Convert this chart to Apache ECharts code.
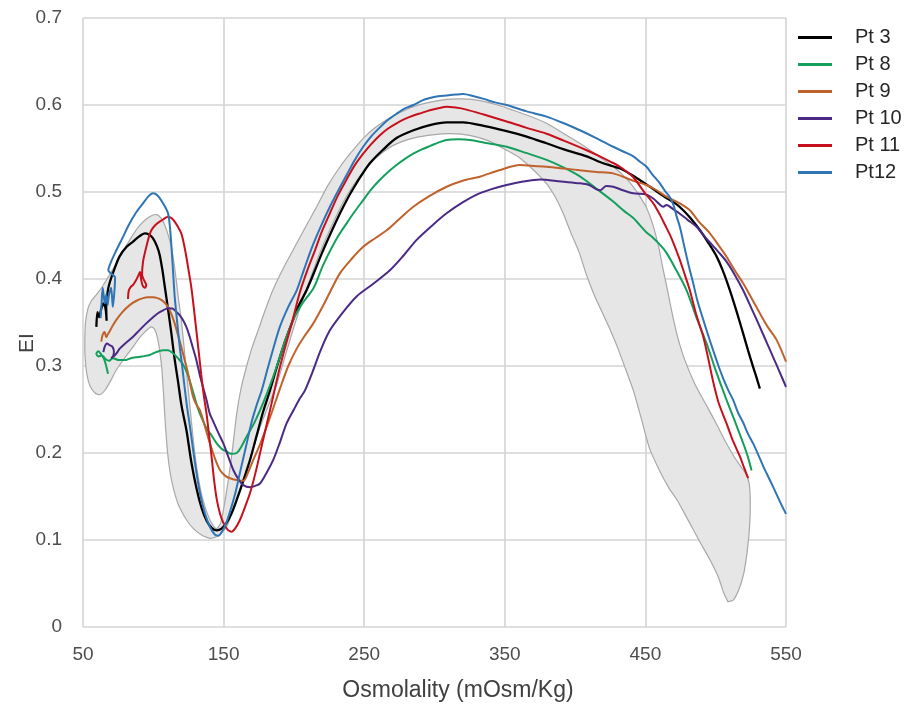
<!DOCTYPE html>
<html>
<head>
<meta charset="utf-8">
<script src="https://cdn.jsdelivr.net/npm/echarts@6/dist/echarts.min.js"></script>
<style>html,body{margin:0;padding:0;background:#fff;}#c{width:904px;height:712px;}</style>
</head>
<body>
<div id="c"></div>
<script>
const seriesNames = ['Pt 3', 'Pt 8', 'Pt 9', 'Pt 10', 'Pt 11', 'Pt12'];
const seriesColors = ['#000000', '#14a05c', '#c0622c', '#4a2a85', '#c8101c', '#2f75b5'];

const pt3 = [[59.5,0.345],[60.3,0.362],[61.5,0.356],[63,0.366],[64.5,0.372],[66,0.366],[66.8,0.352],[66.5,0.368],[67.5,0.385],[69,0.396],[72,0.41],[76,0.426],[81,0.437],[85.6,0.443],[90,0.449],[93.9,0.4525],[97,0.451],[99.8,0.4467],[102.5,0.438],[104.5,0.428],[106.5,0.41],[108.1,0.392],[110.5,0.365],[112.8,0.338],[115,0.31],[117.6,0.282],[120,0.255],[123.7,0.225],[127,0.19],[130.9,0.158],[134.5,0.136],[138,0.122],[141.5,0.114],[145.1,0.111],[148.5,0.113],[152.2,0.12],[155.5,0.13],[159.3,0.146],[164,0.168],[168.8,0.192],[173.5,0.22],[178.2,0.248],[183,0.272],[187.7,0.298],[193,0.325],[198,0.347],[203,0.368],[209,0.387],[215,0.41],[220,0.43],[226,0.452],[232.8,0.4755],[238,0.492],[243,0.506],[248,0.519],[254,0.533],[263,0.548],[273,0.562],[285,0.571],[296.7,0.577],[308.6,0.58],[320.4,0.58],[335,0.576],[351.3,0.57],[365,0.564],[379.7,0.556],[392,0.549],[408.2,0.541],[420,0.533],[431.9,0.527],[441,0.519],[453.2,0.506],[465,0.493],[472,0.486],[476.9,0.479],[482,0.47],[488.8,0.456],[495,0.441],[500.6,0.426],[505,0.41],[510.1,0.387],[515,0.362],[519.5,0.3375],[523,0.318],[526.6,0.299],[529,0.287],[531.4,0.274]];

const pt8 = [[67.8,0.291],[66.5,0.3],[65,0.308],[63,0.313],[61,0.317],[59.5,0.314],[61,0.311],[63.5,0.312],[66,0.308],[68.5,0.306],[71.3,0.309],[75,0.307],[80.8,0.307],[84,0.309],[87.9,0.31],[92,0.311],[97.4,0.3126],[102,0.316],[106.9,0.318],[110.5,0.318],[114,0.3146],[117.5,0.309],[121.1,0.302],[124.5,0.29],[128.3,0.27],[132,0.25],[135,0.238],[138,0.228],[141.5,0.22],[145.1,0.211],[148.5,0.205],[152.2,0.2015],[155.5,0.199],[159.3,0.2],[162.5,0.207],[166.4,0.219],[171,0.232],[175.9,0.249],[180.5,0.267],[185.3,0.2877],[188.9,0.305],[194,0.33],[200,0.355],[206,0.372],[213.8,0.389],[220,0.413],[225,0.43],[231,0.448],[237.5,0.464],[243,0.477],[249,0.49],[255,0.503],[261.2,0.514],[267,0.523],[273,0.531],[279,0.538],[284.9,0.544],[291,0.549],[297,0.553],[303,0.557],[308.6,0.5598],[317,0.5605],[325.2,0.5598],[338,0.556],[351.3,0.552],[365,0.545],[379.7,0.537],[392,0.528],[403.4,0.518],[415,0.504],[427.1,0.489],[435,0.478],[441.4,0.47],[446,0.462],[450.8,0.4535],[455,0.448],[460,0.44],[465,0.43],[472,0.41],[479.3,0.387],[486,0.357],[493.5,0.326],[500,0.295],[507.7,0.261],[514,0.235],[519.6,0.211],[523,0.195],[525.5,0.18]];

const pt9 = [[63,0.328],[64,0.336],[65.4,0.339],[66.5,0.333],[67.5,0.336],[69,0.34],[71,0.346],[73.7,0.353],[78,0.362],[83.2,0.37],[88,0.375],[92.7,0.378],[96,0.379],[99.8,0.379],[103,0.378],[105.7,0.376],[108,0.373],[110.4,0.368],[112.8,0.36],[115.2,0.349],[117.5,0.336],[119.9,0.322],[122.3,0.307],[124.7,0.2916],[128.2,0.265],[130.8,0.255],[133.2,0.249],[136.8,0.23],[140.3,0.211],[144,0.193],[147.4,0.1805],[151,0.174],[154.5,0.171],[159,0.169],[164,0.168],[167.5,0.178],[171.1,0.192],[175.9,0.21],[180.6,0.23],[185,0.25],[190.1,0.274],[196,0.3],[202,0.32],[207,0.333],[213.8,0.349],[220,0.367],[226,0.386],[232.7,0.4065],[241,0.423],[249.3,0.437],[257,0.446],[266,0.456],[275,0.469],[284.9,0.483],[296,0.495],[308.6,0.506],[320,0.513],[332.3,0.5176],[346,0.525],[360.8,0.531],[370,0.53],[379.7,0.529],[392,0.527],[403.4,0.525],[415,0.523],[427.1,0.5214],[441.4,0.513],[450.8,0.508],[458,0.502],[465,0.4946],[474.5,0.487],[481.6,0.479],[488,0.466],[495.9,0.4525],[501.5,0.44],[507.7,0.4256],[513.5,0.41],[519.5,0.395],[525.5,0.378],[531.4,0.3606],[537,0.345],[543.3,0.33],[550,0.305]];

const pt10 = [[64.5,0.316],[65.4,0.322],[67,0.326],[69,0.324],[71,0.322],[72,0.316],[71.3,0.311],[70,0.309],[72.5,0.312],[74.5,0.316],[76.1,0.32],[80,0.326],[85.6,0.3337],[90,0.341],[95,0.349],[99,0.355],[103.3,0.3606],[107,0.364],[110.4,0.3663],[113.5,0.366],[116.3,0.3624],[119,0.358],[121.1,0.353],[123.5,0.345],[125.9,0.3337],[128.3,0.32],[130.6,0.307],[133,0.29],[135.3,0.276],[138,0.26],[140.1,0.2456],[142.7,0.236],[146,0.224],[149.8,0.211],[153.5,0.195],[156.9,0.1805],[160.5,0.17],[164,0.163],[168.8,0.1606],[172,0.162],[175.9,0.165],[180.5,0.177],[185.3,0.192],[190,0.212],[194.8,0.234],[200,0.25],[204,0.262],[207.9,0.272],[213,0.292],[219,0.318],[225.6,0.341],[235,0.362],[244.6,0.38],[256,0.394],[268.3,0.41],[278,0.427],[287.3,0.445],[298,0.461],[308.6,0.4755],[320,0.488],[330,0.497],[340,0.503],[351.3,0.508],[363,0.512],[375,0.5145],[390,0.512],[403.4,0.51],[410,0.508],[415.3,0.503],[418,0.502],[422,0.507],[427.1,0.506],[434,0.502],[441.4,0.4985],[450.8,0.497],[456,0.492],[460,0.486],[462.6,0.483],[465,0.485],[470,0.48],[474.5,0.475],[480,0.468],[486.4,0.46],[492,0.449],[497,0.44],[502,0.431],[507.7,0.42],[513.5,0.405],[519.5,0.387],[525.5,0.366],[531.4,0.345],[536,0.328],[540.9,0.31],[545.5,0.293],[550,0.276]];

const pt11 = [[82,0.377],[82.6,0.387],[84,0.391],[85.5,0.393],[87.5,0.398],[89.1,0.403],[90.5,0.408],[91.3,0.4],[92.5,0.392],[94,0.39],[95,0.393],[93.6,0.398],[92,0.405],[92.7,0.42],[94,0.43],[95.5,0.44],[97,0.449],[98.6,0.456],[101.5,0.462],[104.5,0.466],[107.5,0.469],[110.4,0.4716],[113,0.47],[115.2,0.466],[117.5,0.46],[119.9,0.4525],[121.8,0.44],[123.5,0.4256],[125.2,0.409],[127,0.391],[128.8,0.367],[130.6,0.341],[132.4,0.315],[134.1,0.29],[136,0.265],[137.8,0.246],[139.7,0.22],[141.5,0.195],[143.3,0.168],[145.1,0.147],[147.5,0.13],[149.8,0.12],[152.8,0.112],[155.7,0.1096],[158.5,0.114],[161.6,0.123],[165,0.137],[168.8,0.154],[172.5,0.176],[175.9,0.1996],[179.5,0.225],[183,0.249],[186.5,0.274],[190.1,0.299],[194,0.323],[199,0.352],[204.3,0.385],[210,0.412],[215,0.433],[220,0.455],[225.6,0.4755],[231,0.495],[237,0.513],[243,0.53],[249.3,0.544],[255,0.555],[261,0.565],[267,0.573],[273,0.579],[279,0.584],[285,0.588],[291,0.591],[296.7,0.594],[302,0.596],[308.6,0.598],[315,0.597],[322,0.595],[335,0.589],[351.3,0.581],[365,0.574],[379.7,0.567],[392,0.559],[408.2,0.548],[417.6,0.541],[425,0.535],[431.9,0.529],[437,0.523],[441.4,0.517],[446,0.507],[450,0.498],[455.6,0.487],[460.3,0.474],[464,0.462],[467.4,0.451],[471,0.437],[474.5,0.422],[478,0.405],[481.6,0.387],[486,0.36],[491.1,0.334],[494.5,0.31],[498.2,0.282],[502,0.258],[507.7,0.234],[512,0.215],[517.2,0.196],[520,0.184],[523.1,0.171]];

const pt12 = [[62.5,0.355],[63.2,0.372],[64,0.39],[64.8,0.38],[65.5,0.372],[66.5,0.382],[67.5,0.37],[68.3,0.38],[70,0.39],[71.2,0.368],[72.3,0.385],[72.8,0.402],[71,0.405],[68,0.41],[70,0.42],[73.7,0.433],[78,0.447],[83.2,0.464],[88,0.477],[92.7,0.487],[96.5,0.495],[99.8,0.4985],[103,0.496],[106.9,0.487],[110.4,0.476],[111.8,0.46],[112.8,0.44],[114,0.41],[115.2,0.38],[117,0.35],[118.8,0.322],[120.5,0.3],[122.3,0.275],[124,0.253],[126.1,0.23],[129.5,0.19],[133.2,0.1537],[136.8,0.13],[140.3,0.115],[143.9,0.106],[146.5,0.105],[149,0.11],[152,0.12],[155,0.135],[158.5,0.155],[162,0.18],[166,0.208],[170,0.236],[173.5,0.255],[177.1,0.272],[181,0.295],[185,0.318],[190,0.345],[196,0.368],[202,0.387],[207,0.41],[213,0.437],[219,0.46],[225.6,0.483],[231,0.5],[237,0.518],[243,0.536],[249.3,0.552],[255,0.564],[261,0.574],[267,0.583],[273.1,0.59],[279,0.596],[285,0.6],[291,0.605],[296.7,0.608],[302.5,0.61],[308.6,0.611],[315,0.612],[320.4,0.6126],[328,0.61],[335,0.607],[343,0.603],[351.3,0.6],[365,0.593],[379.7,0.5866],[392,0.579],[403.4,0.571],[415,0.562],[427.1,0.552],[435,0.546],[441.4,0.541],[446,0.535],[450.8,0.529],[455,0.52],[460.3,0.51],[464,0.501],[467.4,0.494],[470,0.485],[472.2,0.472],[474.5,0.46],[478,0.435],[481,0.414],[484,0.395],[487,0.375],[491,0.354],[494.5,0.336],[498.2,0.318],[502,0.3],[505.5,0.285],[509,0.272],[512.4,0.261],[516,0.246],[519.5,0.235],[523,0.222],[526.6,0.211],[530,0.199],[534,0.184],[538.5,0.169],[542,0.157],[546,0.143],[550,0.13]];

// grey reference band: upper/left edge and lower/right edge, both from left tip to right tip
const bandTop = [[51.3,0.33],[51.8,0.35],[53.5,0.366],[56,0.375],[60,0.383],[64,0.392],[69,0.405],[73.7,0.418],[80,0.436],[85.6,0.451],[90,0.461],[95,0.469],[99,0.473],[102.5,0.474],[105.5,0.47],[108.1,0.462],[110.5,0.451],[112.8,0.437],[114.6,0.42],[116.3,0.399],[118,0.376],[119.9,0.353],[122.3,0.315],[124.7,0.276],[127,0.238],[129.5,0.2],[132,0.172],[135,0.148],[138.5,0.13],[142,0.118],[145,0.113],[148,0.12],[150.5,0.14],[153,0.165],[156,0.2],[159.3,0.245],[162.5,0.275],[166.4,0.3],[170,0.32],[175,0.343],[180,0.366],[185,0.387],[193,0.414],[202,0.441],[209,0.462],[216.2,0.483],[224,0.507],[232.8,0.529],[241,0.546],[249.3,0.5617],[257,0.573],[266,0.583],[275,0.591],[284.9,0.598],[296,0.603],[308.6,0.6065],[320,0.607],[332.3,0.605],[345,0.6],[356,0.594],[368,0.587],[379.7,0.579],[391,0.568],[403.4,0.556],[415,0.543],[427.1,0.529],[435,0.518],[441.4,0.506],[446,0.495],[450.8,0.482],[455,0.464],[459,0.44],[462.5,0.412],[466,0.385],[469.5,0.357],[473,0.333],[478,0.307],[485,0.28],[493,0.256],[500,0.235],[507,0.213],[513,0.196],[518,0.184],[521.5,0.176],[523.8,0.165],[524.6,0.145],[524.2,0.118],[522.5,0.088],[520,0.062],[516.5,0.043],[512.5,0.031],[508.7,0.029]];
const bandBottom = [[51.5,0.31],[52.8,0.29],[55,0.277],[58.5,0.269],[62,0.267],[66,0.273],[70,0.284],[73.7,0.2954],[80,0.31],[85.6,0.322],[90,0.332],[93.9,0.339],[98.6,0.345],[101,0.342],[103,0.332],[104.5,0.318],[106,0.298],[107.2,0.27],[108.3,0.24],[110,0.203],[112,0.177],[114.5,0.158],[118,0.14],[123.7,0.123],[128,0.114],[133.2,0.107],[138,0.103],[141.5,0.102],[146,0.105],[152,0.115],[158,0.14],[164,0.17],[170,0.2],[176,0.23],[182,0.255],[188,0.28],[195,0.318],[203,0.36],[210,0.393],[218,0.428],[226,0.458],[235,0.488],[245,0.514],[257,0.537],[270,0.553],[285,0.562],[300,0.566],[312,0.567],[325,0.565],[338,0.559],[351.3,0.548],[360,0.54],[368,0.529],[375,0.518],[380,0.509],[386,0.494],[391.5,0.4755],[397,0.453],[403,0.43],[408,0.405],[413,0.384],[418,0.366],[424,0.345],[430,0.322],[436,0.296],[441.4,0.272],[447,0.24],[453,0.205],[460,0.18],[467,0.159],[472.5,0.146],[480,0.124],[488,0.1],[496,0.077],[502,0.057],[505.5,0.04],[508.7,0.029]];

const seriesData = [pt3, pt8, pt9, pt10, pt11, pt12];

const chart = echarts.init(document.getElementById('c'), null, {renderer: 'canvas'});
const FONT = 'Liberation Sans';
const lineSeries = seriesNames.map((n, i) => ({
  name: n, type: 'line', data: seriesData[i], symbol: 'none', smooth: 0.3,
  z: 3, lineStyle: {color: seriesColors[i], width: i === 0 ? 2.3 : 2}, itemStyle: {color: seriesColors[i]}
}));

chart.setOption({
  animation: false,
  backgroundColor: '#ffffff',
  grid: {left: 83, right: 118, top: 18, bottom: 85, containLabel: false},
  xAxis: {
    type: 'value', min: 50, max: 550, interval: 100,
    axisLine: {show: false}, axisTick: {show: false},
    splitLine: {show: true, lineStyle: {color: '#d4d4d4', width: 1.6}},
    axisLabel: {margin: 18, color: '#4d4d4d', fontFamily: FONT, fontSize: 19}
  },
  yAxis: {
    type: 'value', min: 0, max: 0.7, interval: 0.1,
    axisLine: {show: false}, axisTick: {show: false},
    splitLine: {show: true, lineStyle: {color: '#d4d4d4', width: 1.6}},
    axisLabel: {margin: 21, color: '#4d4d4d', fontFamily: FONT, fontSize: 19}
  },
  legend: {
    orient: 'vertical', left: 798, top: 24, padding: 0,
    itemWidth: 34, itemHeight: 3, itemGap: 0, icon: 'rect',
    data: seriesNames,
    textStyle: {fontFamily: FONT, fontSize: 20, color: '#262626', lineHeight: 27, padding: [0, 0, 0, 18]}
  },
  graphic: [
    {type: 'text', x: 27, y: 343, rotation: Math.PI / 2,
     style: {text: 'EI', fontFamily: FONT, fontSize: 21, fill: '#404040', align: 'center', verticalAlign: 'middle'}},
    {type: 'text', x: 458, y: 691,
     style: {text: 'Osmolality (mOsm/Kg)', fontFamily: FONT, fontSize: 23, fill: '#404040', align: 'center', verticalAlign: 'middle'}}
  ],
  series: [
    {
      type: 'custom', name: 'band', z: 1, silent: true,
      data: [[50, 0]],
      renderItem: function (params, api) {
        const pts = bandTop.concat(bandBottom.slice().reverse()).map(p => api.coord(p));
        return {type: 'polygon', shape: {points: pts, smooth: 0.25},
                style: {fill: '#e6e6e6', stroke: '#a8a8a8', lineWidth: 1.2}};
      }
    }
  ].concat(lineSeries)
});
</script>
</body>
</html>
